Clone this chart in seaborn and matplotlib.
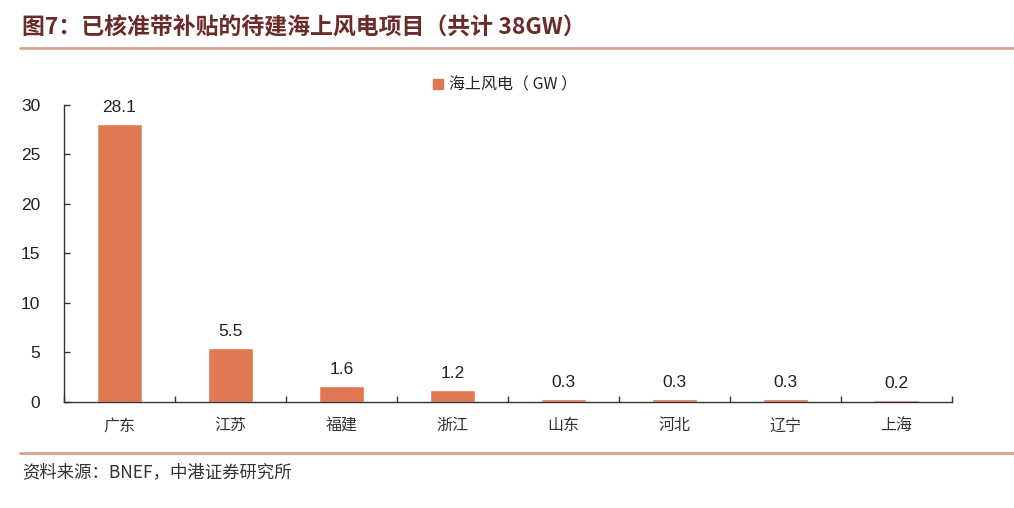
import matplotlib
matplotlib.use("Agg")
import matplotlib.pyplot as plt
from matplotlib.lines import Line2D
from matplotlib.patches import Patch
import seaborn as sns
import pandas as pd

categories = ["广东", "江苏", "福建", "浙江", "山东", "河北", "辽宁", "上海"]
values = [28.1, 5.5, 1.6, 1.2, 0.3, 0.3, 0.3, 0.2]
yticks = [0, 5, 10, 15, 20, 25, 30]
series_name = "海上风电（ GW ）"
title = "图7：已核准带补贴的待建海上风电项目（共计 38GW）"
source = "资料来源：BNEF，中港证券研究所"

sns.set_theme(style="white")
plt.rcParams['font.family'] = ['Noto Sans CJK SC', 'DejaVu Sans']

bar_color = "#E07852"
df = pd.DataFrame({"cat": categories, "val": values})

fig = plt.figure(figsize=(10.14, 5.08), dpi=100)
ax = fig.add_axes([0.0631, 0.2087, 0.8757, 0.5846])
sns.barplot(data=df, x="cat", y="val", color=bar_color, width=0.41,
            saturation=1, ax=ax)

ax.set_ylim(0, 30)
ax.set_xlim(-0.5, len(categories) - 0.5)
ax.set_yticks(yticks)
ax.set_yticklabels([str(t) for t in yticks], fontsize=12.5, color="#222222",
                   family=['Liberation Sans', 'DejaVu Sans'])
ax.set_xticks(range(len(categories)))
ax.set_xticklabels(categories, fontsize=11.5, color="#333333")
ax.tick_params(axis='x', length=0, pad=11)
ax.tick_params(axis='y', direction='in', length=4, width=1, color="#333333", pad=17, left=True)
# boundary ticks on x axis
ax.set_xticks([i - 0.5 for i in range(len(categories) + 1)], minor=True)
ax.tick_params(axis='x', which='minor', direction='in', length=4, width=1, color="#333333", bottom=True)
ax.set_xlabel("")
ax.set_ylabel("")
for s in ["top", "right"]:
    ax.spines[s].set_visible(False)
for s in ["left", "bottom"]:
    ax.spines[s].set_color("#333333")
    ax.spines[s].set_linewidth(1.0)

for i, v in enumerate(values):
    ax.text(i, v + 0.9, f"{v}", ha="center", va="bottom", fontsize=12.5,
            color="#222222", family=['Liberation Sans', 'DejaVu Sans'])

ax.legend(handles=[Patch(color=bar_color, label=series_name)], loc="center",
          bbox_to_anchor=(0.497, 1.067), frameon=False, fontsize=11.5,
          handlelength=0.6, handleheight=0.6, handletextpad=0.4)

fig.text(0.022, 0.945, title, fontsize=16.5, fontweight="bold", color="#6B2B2B",
         ha="left", va="center")
fig.add_artist(Line2D([0.02, 1.0], [0.905, 0.905], color="#D9A28F", lw=2))
fig.add_artist(Line2D([0.02, 1.0], [0.108, 0.108], color="#D9A28F", lw=2))
fig.text(0.022, 0.07, source, fontsize=12.5, style="italic", color="#333333",
         ha="left", va="center")

fig.savefig("out.png", dpi=100)
